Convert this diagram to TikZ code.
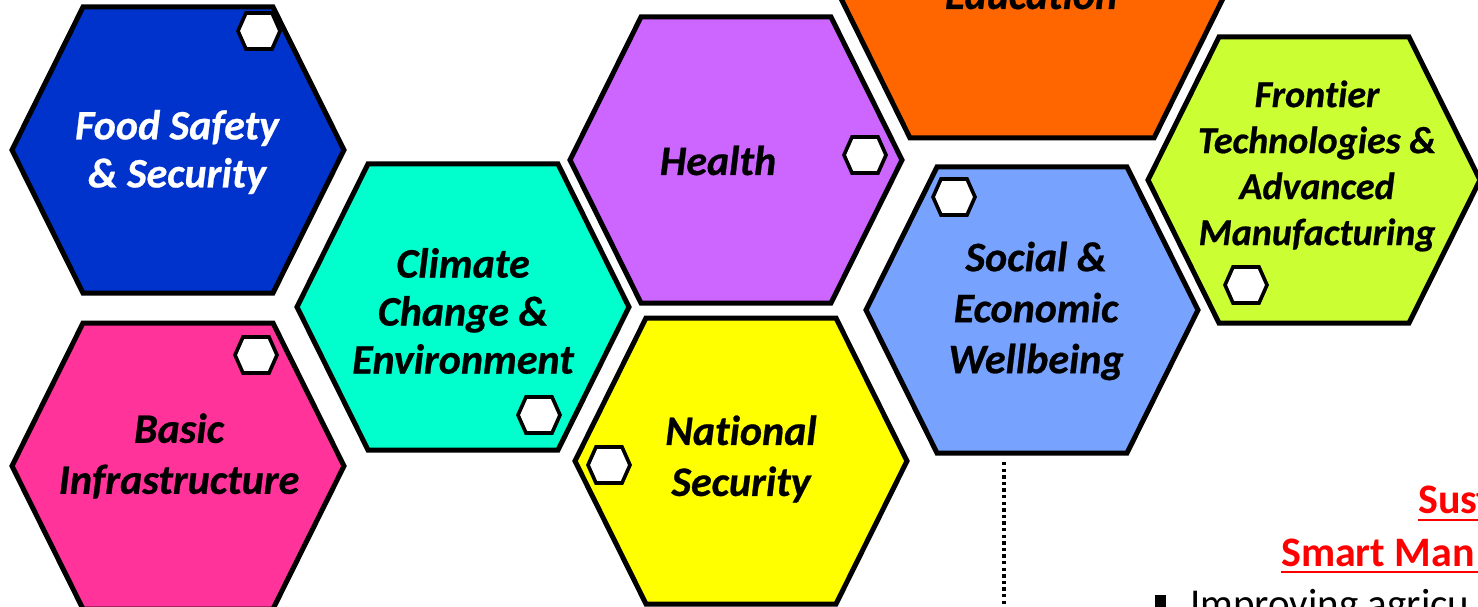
\documentclass[tikz,border=0pt]{standalone}
\usepackage{fontspec}
\setmainfont{Carlito}[Ligatures={NoCommon},BoldItalicFeatures={FakeBold=0.6}]
\definecolor{cfood}{HTML}{0033CC}
\definecolor{cbasic}{HTML}{FF3399}
\definecolor{cclim}{HTML}{00FFCC}
\definecolor{chealth}{HTML}{CC66FF}
\definecolor{cnat}{HTML}{FFFF00}
\definecolor{cedu}{HTML}{FF6600}
\definecolor{csoc}{HTML}{77A3FF}
\definecolor{cfront}{HTML}{CCFF33}
\definecolor{cred}{HTML}{FF0000}
\newcommand{\bighex}[3]{\path[hexline,shift={(#1,#2)},fill=#3] (-166,0) -- (-95,-143) -- (95,-143) -- (166,0) -- (95,143) -- (-95,143) -- cycle;}
\newcommand{\smallhex}[2]{\path[smallhexline,shift={(#1,#2)}] (-21,0) -- (-13,-18) -- (13,-18) -- (21,0) -- (13,18) -- (-13,18) -- cycle;}
\tikzset{
  hexline/.style={draw=black,line width=5pt,line join=miter},
  smallhexline/.style={draw=black,fill=white,line width=3.6pt,line join=miter},
  hextext/.style={font=\bfseries\itshape\fontsize{42}{48}\selectfont,align=center,inner sep=0pt},
  widetext/.style={font=\bfseries\itshape\fontsize{42}{51}\selectfont,align=center,inner sep=0pt},
  fronttext/.style={font=\bfseries\itshape\fontsize{38}{46}\selectfont,align=center,inner sep=0pt},
  redhead/.style={font=\bfseries\fontsize{42}{48}\selectfont,text=cred,inner sep=0pt,anchor=base west},
  bodytext/.style={font=\fontsize{41}{44}\selectfont,inner sep=0pt,anchor=base west},
  redline/.style={draw=cred,line width=2.5pt},
  dotline/.style={draw=black,line width=3.3pt,dash pattern=on 3.3pt off 3.3pt}
}
\begin{document}
\begin{tikzpicture}[x=1pt,y=-1pt]
\useasboundingbox (0,0) rectangle (1478,607);
\clip (0,0) rectangle (1478,607);
% big hexagons
\path[hexline,fill=cedu,shift={(1032,-46)}] (-213,0) -- (-122,-184) -- (122,-184) -- (213,0) -- (122,184) -- (-122,184) -- cycle;
\bighex{178}{150}{cfood}
\bighex{178}{466}{cbasic}
\bighex{463}{307}{cclim}
\bighex{736}{160}{chealth}
\bighex{741}{461}{cnat}
\bighex{1032}{310}{csoc}
\bighex{1314}{180}{cfront}
% small hexagons
\smallhex{259}{31}
\smallhex{865}{155}
\smallhex{256}{355}
\smallhex{539}{415}
\smallhex{609}{465}
\smallhex{954}{197}
\smallhex{1246}{285}
% labels
\node[hextext,text=white] (food) at (177,152) {Food Safety\\\& Security};
\node[widetext] (basic) at (179,456) {Basic\\Infrastructure};
\node[hextext] (clim) at (463,311) {Climate\\Change \&\\Environment};
\node[hextext,anchor=base] (health) at (718,175) {Health};
\node[widetext] (nat) at (741,459) {National\\Security};
\node[hextext,anchor=base] (edu) at (1031,9) {Education};
\node[widetext] (soc) at (1036,311) {Social \&\\Economic\\Wellbeing};
\node[fronttext] (front) at (1317,166) {Frontier\\Technologies \&\\Advanced\\Manufacturing};
% dotted line
\coordinate (dtop) at (1004,462);
\coordinate (dbot) at (1004,612);
\path[dotline] (dtop) -- (dbot);
% right text
\node[redhead] (sust) at (1418,513) {Sust};
\node[redhead] (smart) at (1281,566) {Smart Man};
\path[redline] (1418,520) -- (1480,520);
\path[redline] (1281,572) -- (1480,572);
\node[bodytext] (impr) at (1190,617) {Improving agricu};
\fill[black] (1155,595) rectangle (1166,607);
\end{tikzpicture}
\end{document}
